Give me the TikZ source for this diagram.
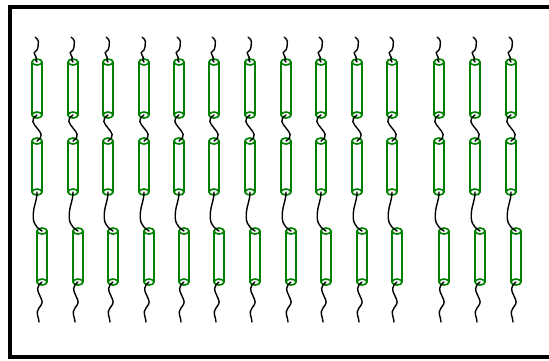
\documentclass[tikz,border=0pt]{standalone}
\usetikzlibrary{calc}
\begin{document}
\begin{tikzpicture}[x=1pt,y=-1pt,
  tube/.style={draw=green!50!black, line width=1.7pt},
  wire/.style={draw=black, line width=1.4pt, line cap=round},
  frame/.style={draw=black, line width=4pt}]
\useasboundingbox (0,0) rectangle (549,360);
\begin{scope}
  \clip (0,0) rectangle (549,360);
  \draw[frame] (10,7) rectangle (570,357);
\end{scope}
% three rows of tubes joined by wires
\foreach \i/\x in {0/37,1/73,2/108,3/144,4/179,5/214,6/250,7/286,8/321,9/357,10/392,11/439,12/475,13/511}{
  \coordinate (w0-\i) at (\x-2,37);
  \coordinate (a1-\i) at (\x,62);   \coordinate (b1-\i) at (\x,115);
  \coordinate (a2-\i) at (\x,141);  \coordinate (b2-\i) at (\x,192);
  \coordinate (a3-\i) at (\x+5,231); \coordinate (b3-\i) at (\x+5,282);
  \coordinate (w3-\i) at (\x+2,322);
  \foreach \r in {1,2,3}{
    \fill[white] ($(a\r-\i)+(-5,0)$) rectangle ($(b\r-\i)+(5,0)$);
    \draw[tube] ($(a\r-\i)+(-5,0)$) -- ($(b\r-\i)+(-5,0)$)
                ($(a\r-\i)+(5,0)$) -- ($(b\r-\i)+(5,0)$);
    \draw[tube,fill=white] (a\r-\i) ellipse [x radius=5pt, y radius=3pt]
                           (b\r-\i) ellipse [x radius=5pt, y radius=3pt];
  }
  % lead-in wire above the first row
  \draw[wire] (w0-\i) .. controls +(5,4) and +(0,-5) .. ($(w0-\i)+(3,10)$)
                      .. controls +(0,5) and +(-3,-4) .. ($(w0-\i)+(0,18)$)
                      .. controls +(3,4) and +(-3,-3) .. (a1-\i);
  % link between rows 1 and 2
  \draw[wire] (b1-\i) .. controls +(-7,5) and +(-4,-5) .. ($(b1-\i)!0.5!(a2-\i)$)
                      .. controls +(4,5) and +(7,-5) .. (a2-\i);
  % link between rows 2 and 3
  \draw[wire] (b2-\i) .. controls +(0,8) and +(1,-8) .. ($(b2-\i)!0.5!(a3-\i)+(-6,0)$)
                      .. controls +(-1,10) and +(-8,-5) .. (a3-\i);
  % trailing wire below the last row
  \draw[wire] (b3-\i) .. controls +(-6,5) and +(-3,-6) .. ($(b3-\i)+(-2,14)$)
                      .. controls +(3,6) and +(4,-5) .. ($(b3-\i)+(-3,26)$)
                      .. controls +(-4,5) and +(0,-5) .. (w3-\i);
}
\end{tikzpicture}
\end{document}
